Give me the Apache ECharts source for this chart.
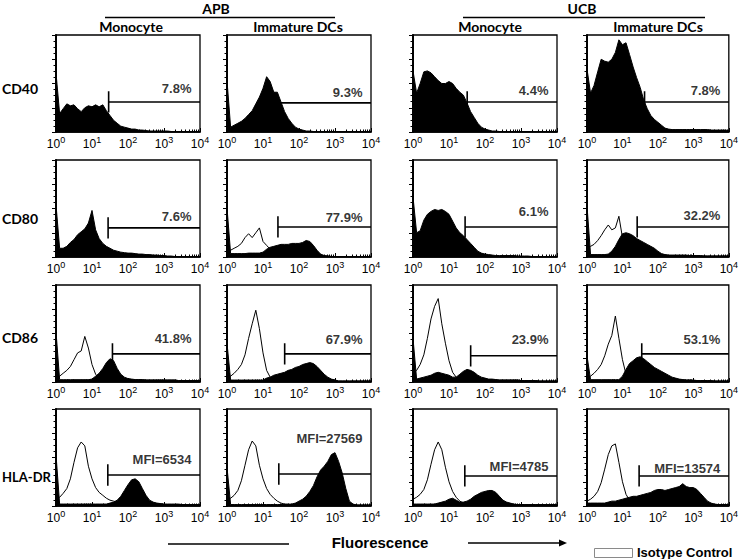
<!DOCTYPE html>
<html><head><meta charset="utf-8">
<script src="https://cdn.jsdelivr.net/npm/echarts@6/dist/echarts.min.js"></script>
<style>html,body{margin:0;padding:0;background:#fff}#c{width:741px;height:559px}</style>
</head><body><div id="c"></div>
<script>
// ---- data ----
const bins = [1,1.26,1.58,2,2.51,3.16,3.98,5.01,6.31,7.94,
  10,12.6,15.8,20,25.1,31.6,39.8,50.1,63.1,79.4,
  100,126,158,200,251,316,398,501,631,794,
  1000,1259,1585,1995,2512,3162,3981,5012,6310,7943,10000];
const xTickValues = [1,10,100,1000,10000];
const xTickExps = ['0','1','2','3','4'];
const groups = ['APB','UCB'];
const cellTypes = ['Monocyte','Immature DCs','Monocyte','Immature DCs'];
const markers = ['CD40','CD80','CD86','HLA-DR'];

// stained histograms (% of panel height)
const apbMonoCD40 = [61,19,24,29,27,28,24,21,25,27, 26,28,26,28,22,17,12,9,6,5, 4,3,3,2,2,1.5,1,1,1,1, 1,1,0.5,0.5,0.5,0.5,0.5,0.5,0.5,0.5, 0.5];
const apbDcCD40 = [53,5,7,9,11,14,18,22,29,36, 45,57,52,41,41,31,21,14,9,5, 3,2,1,1,0.5,0.5,0.5,0.5,0.5,0.5, 0.5,0.5,0.5,0.5,0.5,0.5,0.5,0.5,0.5,0.5, 0.5];
const ucbMonoCD40 = [63,40,50,62,63,61,57,53,50,50, 52,50,45,41,38,30,21,15,9,5, 3,2,1,1,0.5,0.5,0.5,0.5,0.5,0.5, 0.5,0.5,0.5,0.5,0.5,0.5,0.5,0.5,0.5,0.5, 0.5];
const ucbDcCD40 = [65,40,48,62,75,73,72,75,82,95, 90,92,80,67,56,46,33,24,17,13, 10,7,4,3,2.5,2.5,2.5,2.5,2.5,2.5, 2.5,2.5,2.5,2.5,2.5,2,2,2,2,2, 1.5];
const apbMonoCD80 = [54,9,9,11,15,18,23,26,29,35, 48,28,19,14,11,9,7,6,5,4.5, 4,4,3.5,3,3,2.5,2.5,2,2,1.5, 1.5,1,1,0.5,0.5,0.5,0.5,0.5,0.5,0.5, 0.5];
const apbDcCD80 = [51,3.5,3.5,3.5,3.5,3.5,4,4,4,4, 5,8,10,11,12,13,13,13,14,14, 14,15,17,16,12,7,3,1.5,1,0.5, 0.5,0.5,0.5,0.5,0.5,0.5,0.5,0.5,0.5,0.5, 0.5];
const ucbMonoCD80 = [62,25,27,38,44,47,49,48,49,47, 44,37,30,25,22,18,14,10,6,4, 3,2.5,2,1.5,1.5,1.5,1.5,1.5,1.5,1, 1,1,1,0.5,0.5,0.5,0.5,0.5,0.5,0.5, 0.5];
const ucbDcCD80 = [53,2.5,2.5,2.5,2.5,2.5,3,6,11,18, 24,25,24,22,19,17,15,13,11,9, 6,3.5,2.5,2,2,2,2,2,2,1.5, 1.5,1.5,1.5,1,1,1,1,1,1,1, 1];
const apbMonoCD86 = [52,2.4,2.4,2.4,2.4,2.4,2.4,2.4,2.4,2.4, 3,6,9,14,20,24,22,14,8,5, 3.5,3,2.5,2.5,2.5,2,2,2,2,2, 2,2,2,2,1.5,1.5,1.5,1.5,1.5,1.5, 1.5];
const apbDcCD86 = [40,2,2,2,2,2,2,2,2,2, 2,4,5,7,8,9,10,12,13,15, 16,18,19,20,19,16,12,8,5,3, 2,1,1,1,1,1,1,1,1,1, 1];
const ucbMonoCD86 = [45,3,4,5,6,7,9,10,9,8, 7,5,5,8,11,13,12,10,7,5, 4,3,3,2.5,2,2,2,2,2,2, 1.5,1.5,1.5,1.5,1.5,1,1,1,1,1, 1];
const ucbDcCD86 = [27,2.4,2.4,2.4,2.4,2.4,2.4,2.4,2.4,2.4, 6,13,19,22,25,26,24,21,18,15, 13,11,9,7,5,4,3,2.5,2,2, 2,1.5,1.5,1.5,1.5,1.5,1,1,1,1, 1];
const apbMonoHLA = [53,2,2,2,2,2,2,2,2,2, 2,2,2,2,2,3,4,6,10,16, 22,27,28,25,18,11,6,4,3,2.5, 2,2,2,2,2,1.5,1.5,1.5,1.5,1.5, 1.5];
const apbDcHLA = [40,1.5,1.5,1.5,1.5,1.5,1.5,1.5,1.5,1.5, 1.5,1.5,1.5,1.5,1.5,1.5,1.5,1.5,2,3, 5,7,10,15,21,30,37,41,46,53, 55,46,34,18,5,2,1,1,1,1, 1];
const ucbMonoHLA = [2,2,2,2,2,2,2,3,4,5, 7,8,6,4,4,5,7,10,12,14, 15,16,16,14,10,6,4,3,2,1.5, 1.5,1.5,1.5,1.5,1.5,1.5,1.5,1.5,1.5,1.5, 1.5];
const ucbDcHLA = [3,3,3,3,3,3,4,5,5,6, 7,8,9,10,10,11,12,13,14,16, 17,17,16,17,18,19,20,23,20,19, 19,17,13,9,5,3,2,1.5,1.5,1.5, 1.5];

// isotype control histograms
const apbDcCD80Iso = [5,7,9,11,14,20,24,20,25,30, 16,12,8,5,3,2,2,2,2,2, 2,2,2,2,2,2,1.5,1,1,0.5, 0.5,0.5,0.5,0.5,0.5,0.5,0.5,0.5,0.5,0.5, 0.5];
const ucbDcCD80Iso = [9,11,13,17,22,28,33,28,30,42, 20,10,5,3,2,2,2,2,2,2, 2,2,2,1.5,1.5,1.5,1.5,1.5,1.5,1, 1,1,1,1,1,1,1,1,1,1, 1];
const apbMonoCD86Iso = [3.5,6,9,12,16,23,30,32,47,35, 18,8,4,2.4,2.4,2.4,2.4,2.4,2.4,2.4, 2,2,2,2,2,2,2,2,2,2, 2,2,2,2,1.5,1.5,1.5,1.5,1.5,1.5, 1.5];
const apbDcCD86Iso = [6,6,9,13,18,28,45,60,74,55, 30,12,5,3,2,2,2,2,2,2, 2,2,2,2,2,2,2,2,2,2, 2,1,1,1,1,1,1,1,1,1, 1];
const ucbMonoCD86Iso = [8,12,18,28,45,65,78,86,60,40, 22,10,5,3,2,2,2,2,2,2, 2,2,2,2,2,2,2,2,2,2, 1.5,1.5,1.5,1.5,1.5,1,1,1,1,1, 1];
const ucbDcCD86Iso = [3.5,6,9,13,18,27,39,48,68,45, 23,8,3,2.4,2.4,2.4,2.4,2.4,2.4,2.4, 2,2,2,2,2,2,2,2,2,2, 1.5,1.5,1.5,1.5,1.5,1,1,1,1,1, 1];
const apbMonoHLAIso = [8,9,13,18,28,45,60,66,62,41, 28,19,14,11,8,6,5,4,3,2, 2,2,2,2,2,2,2,2,2,2, 1.5,1.5,1.5,1.5,1.5,1.5,1.5,1.5,1.5,1.5, 1.5];
const apbDcHLAIso = [8,8,11,16,26,42,58,67,62,42, 28,18,12,8,5,3,2,2,1.5,1.5, 1.5,1.5,1.5,1.5,1.5,1.5,1.5,1.5,1.5,1.5, 1.5,1.5,1.5,1.5,1.5,1.5,1,1,1,1, 1];
const ucbMonoHLAIso = [7,9,12,17,27,43,58,66,58,40, 25,15,9,5,3,2,2,2,2,2, 2,2,2,2,2,2,2,2,1.5,1.5, 1.5,1.5,1.5,1.5,1.5,1.5,1.5,1.5,1.5,1.5, 1.5];
const ucbDcHLAIso = [5,7,10,15,24,38,53,62,64,45, 25,12,6,4,3,3,3,3,3,3, 3,3,3,3,3,3,3,3,3,3, 3,3,2,2,2,1.5,1.5,1.5,1.5,1.5, 1.5];

// panels in reading order (row = marker, col = APB mono, APB DC, UCB mono, UCB DC)
const stained = [apbMonoCD40, apbDcCD40, ucbMonoCD40, ucbDcCD40,
                 apbMonoCD80, apbDcCD80, ucbMonoCD80, ucbDcCD80,
                 apbMonoCD86, apbDcCD86, ucbMonoCD86, ucbDcCD86,
                 apbMonoHLA, apbDcHLA, ucbMonoHLA, ucbDcHLA];
const isotype = [null, null, null, null,
                 null, apbDcCD80Iso, null, ucbDcCD80Iso,
                 apbMonoCD86Iso, apbDcCD86Iso, ucbMonoCD86Iso, ucbDcCD86Iso,
                 apbMonoHLAIso, apbDcHLAIso, ucbMonoHLAIso, ucbDcHLAIso];
const gateX = [29, 21, 32, 42, 28, 26, 28, 26, 37, 40, 40, 35, 27.5, 27.5, 27.5, 29.5];
const gateY = [31, 30, 31, 31, 30, 31, 31, 31, 29, 29, 27, 29, 32, 33, 31, 31];
const gateLabels = ['7.8%','9.3%','4.4%','7.8%','7.6%','77.9%','6.1%','32.2%',
                    '41.8%','67.9%','23.9%','53.1%','MFI=6534','MFI=27569','MFI=4785','MFI=13574'];
const labelY = [45, 41, 43, 43, 42, 41, 47, 43, 45, 44, 44, 44, 48, 70, 41, 39];

// ---- layout ----
const colLeft = [56, 227, 413, 587];
const rowTop = [35, 160, 285, 409];
const panelW = 144, panelH = 97;
const gateHalf = 11;
const AR = 'Liberation Sans, Arial, sans-serif';
const CAL = 'Lato, Carlito, sans-serif';

const grid = [], xAxis = [], yAxis = [], series = [];
for (let p = 0; p < 16; p++) {
  const r = Math.floor(p / 4), c = p % 4;
  grid.push({left: colLeft[c], top: rowTop[r], width: panelW, height: panelH,
    show: true, borderColor: '#000', borderWidth: 1.3, backgroundColor: '#fff'});
  xAxis.push({type: 'log', logBase: 10, min: 1, max: 10000, gridIndex: p,
    axisLine: {show: true, lineStyle: {color: '#000', width: 1.5}},
    axisTick: {show: true, inside: true, length: 4, lineStyle: {color: '#000', width: 1}},
    minorTick: {show: true, splitNumber: 9, length: 2.5, lineStyle: {color: '#000', width: 1}},
    splitLine: {show: false}, minorSplitLine: {show: false},
    axisLabel: {show: true, margin: 3, showMinLabel: true, showMaxLabel: true,
      formatter: v => { const i = xTickValues.indexOf(Math.round(v)); return '{b|10}{s|' + (i >= 0 ? xTickExps[i] : '') + '}'; },
      rich: {b: {fontSize: 12, fontFamily: AR, color: '#000', lineHeight: 15, verticalAlign: 'bottom'},
             s: {fontSize: 9, fontFamily: AR, color: '#000', lineHeight: 15, verticalAlign: 'top'}}}
  });
  yAxis.push({type: 'value', min: 0, max: 100, interval: 25, gridIndex: p,
    axisLine: {show: true, lineStyle: {color: '#000', width: 2}},
    axisTick: {show: true, inside: false, length: 4, lineStyle: {color: '#000', width: 1}},
    minorTick: {show: true, splitNumber: 4, length: 2.5, lineStyle: {color: '#000', width: 1}},
    axisLabel: {show: false}, splitLine: {show: false}, minorSplitLine: {show: false}
  });
  series.push({type: 'line', xAxisIndex: p, yAxisIndex: p, silent: true, symbol: 'none', z: 2,
    data: bins.map((b, i) => [b, stained[p][i]]),
    lineStyle: {color: '#000', width: 1}, areaStyle: {color: '#000', opacity: 1}});
  if (isotype[p]) {
    series.push({type: 'line', xAxisIndex: p, yAxisIndex: p, silent: true, symbol: 'none', z: 3,
      data: bins.map((b, i) => [b, isotype[p][i]]),
      lineStyle: {color: '#000', width: 1}});
  }
  series.push({type: 'line', xAxisIndex: p, yAxisIndex: p, silent: true, symbol: 'none', z: 4,
    data: [[gateX[p], gateY[p]], [10000, gateY[p]]], lineStyle: {color: '#000', width: 1.6}});
  series.push({type: 'line', xAxisIndex: p, yAxisIndex: p, silent: true, symbol: 'none', z: 4,
    data: [[gateX[p], gateY[p] - gateHalf], [gateX[p], gateY[p] + gateHalf]], lineStyle: {color: '#000', width: 1.6}});
  series.push({type: 'scatter', xAxisIndex: p, yAxisIndex: p, silent: true, symbolSize: 1, z: 5,
    itemStyle: {color: 'rgba(0,0,0,0)'},
    data: [[10000, labelY[p]]],
    label: {show: true, position: 'left', distance: 8, formatter: gateLabels[p],
      fontSize: 13, fontWeight: 'bold', fontFamily: AR, color: '#000'}});
}

const graphic = [];
function txt(t, x, y, font, align) {
  graphic.push({type: 'text', x: x, y: y, silent: true,
    style: {text: t, font: font, fill: '#000', align: align || 'center', verticalAlign: 'middle'}});
}
function ln(x1, y1, x2, y2, w, col) {
  graphic.push({type: 'line', silent: true, shape: {x1, y1, x2, y2}, style: {stroke: col || '#000', lineWidth: w}});
}
txt(groups[0], 216, 8, 'bold 14px ' + CAL);
txt(groups[1], 582, 8, 'bold 14px ' + CAL);
ln(105, 17.5, 335, 17.5, 1.6);
ln(463, 17.5, 705, 17.5, 1.6);
const headX = [131, 298, 490, 658];
cellTypes.forEach((t, i) => txt(t, headX[i], 26, 'bold 14px ' + CAL));
const rowLabelY = [88, 218, 337, 477];
markers.forEach((m, i) => {
  if (i === 3) txt(m, 2, rowLabelY[i], 'bold 13px ' + CAL, 'left');
  else txt(m, 20, rowLabelY[i], 'bold 14px ' + CAL);
});
ln(168, 544, 289, 544, 1.6);
txt('Fluorescence', 380, 542, 'bold 15px ' + AR);
ln(468, 543, 562, 543, 1.6);
graphic.push({type: 'polygon', silent: true, shape: {points: [[559, 539.5], [567, 543], [559, 546.5]]}, style: {fill: '#000'}});
graphic.push({type: 'rect', silent: true, shape: {x: 594.5, y: 548.5, width: 38, height: 9}, style: {fill: '#fff', stroke: '#8a8a8a', lineWidth: 1}});
txt('Isotype Control', 637, 552, 'bold 13px ' + AR, 'left');

const chart = echarts.init(document.getElementById('c'), null, {renderer: 'svg', width: 741, height: 559});
chart.setOption({animation: false, backgroundColor: '#fff', grid, xAxis, yAxis, series, graphic});
</script></body></html>
